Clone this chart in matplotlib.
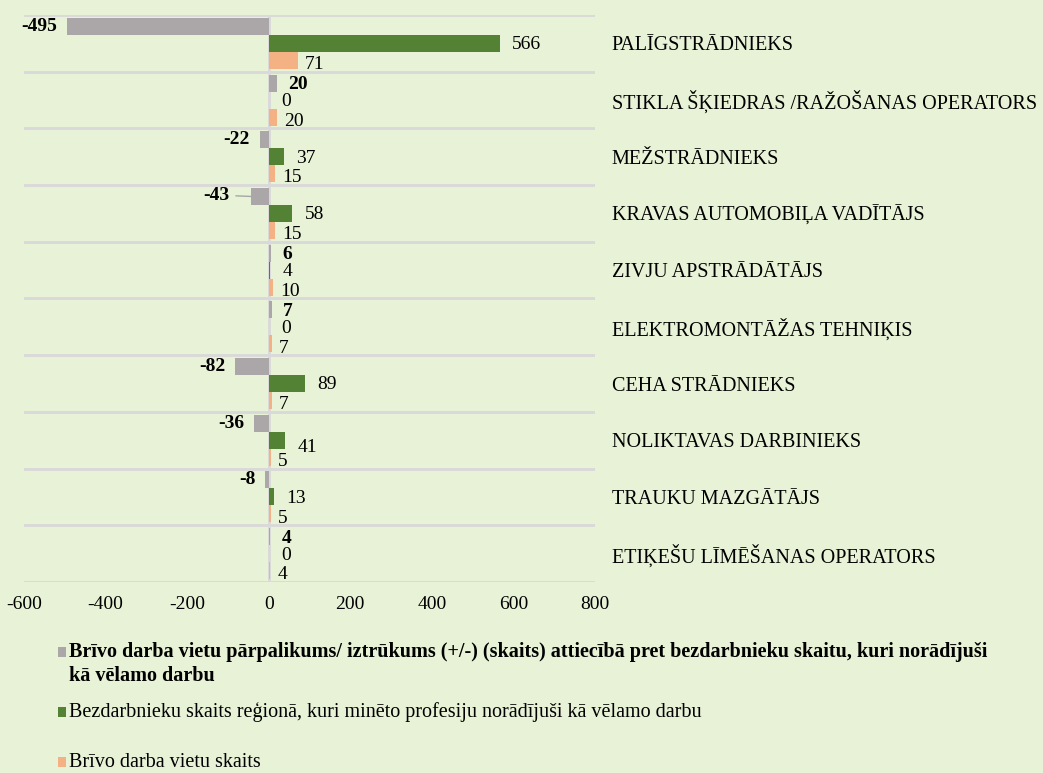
import matplotlib
matplotlib.use("Agg")
import matplotlib.pyplot as plt
from matplotlib.patches import Rectangle
import numpy as np

categories = [
    "PALĪGSTRĀDNIEKS",
    "STIKLA ŠĶIEDRAS /RAŽOŠANAS OPERATORS",
    "MEŽSTRĀDNIEKS",
    "KRAVAS AUTOMOBIĻA VADĪTĀJS",
    "ZIVJU APSTRĀDĀTĀJS",
    "ELEKTROMONTĀŽAS TEHNIĶIS",
    "CEHA STRĀDNIEKS",
    "NOLIKTAVAS DARBINIEKS",
    "TRAUKU MAZGĀTĀJS",
    "ETIĶEŠU LĪMĒŠANAS OPERATORS",
]
surplus = [-495, 20, -22, -43, 6, 7, -82, -36, -8, 4]
unemployed = [566, 0, 37, 58, 4, 0, 89, 41, 13, 0]
vacancies = [71, 20, 15, 15, 10, 7, 7, 5, 5, 4]
xticks = [-600, -400, -200, 0, 200, 400, 600, 800]

series_names = [
    "Brīvo darba vietu pārpalikums/ iztrūkums (+/-) (skaits) attiecībā pret bezdarbnieku skaitu, kuri norādījuši",
    "Bezdarbnieku skaits reģionā, kuri minēto profesiju norādījuši kā vēlamo darbu",
    "Brīvo darba vietu skaits",
]
series_name_line2 = "kā vēlamo darbu"

BG = "#E8F2D6"
GREY = "#ABA7A8"
GREEN = "#548235"
ORANGE = "#F4B183"
GRID = "#D9D9D9"
FONT = "Liberation Serif"
FS = 14.5
FS_NUM = 14

W, H = 1043, 773
fig = plt.figure(figsize=(W / 100, H / 100), dpi=100, facecolor=BG)
ax = fig.add_axes([24 / W, 1 - 582 / H, (595 - 24) / W, (582 - 15) / H])
ax.set_facecolor(BG)

y = np.arange(len(categories))
bh = 0.3
ax.barh(y - bh, surplus, height=bh, color=GREY, zorder=3)
ax.barh(y, unemployed, height=bh, color=GREEN, zorder=3)
ax.barh(y + bh, vacancies, height=bh, color=ORANGE, zorder=3)

ax.set_xlim(-600, 800)
ax.set_ylim(len(categories) - 0.5, -0.5)

# gridlines at category boundaries
ax.set_yticks(np.arange(len(categories) + 1) - 0.5, minor=True)
ax.grid(which="minor", axis="y", color=GRID, linewidth=2, zorder=1)
ax.axvline(0, color=GRID, linewidth=2, zorder=2)
for s in ax.spines.values():
    s.set_visible(False)

ax.set_xticks(xticks)
ax.set_xticklabels([str(v) for v in xticks], fontfamily=FONT, fontsize=FS_NUM)
ax.tick_params(axis="x", length=0, pad=10)
ax.yaxis.tick_right()
ax.set_yticks(y)
ax.set_yticklabels(categories, fontfamily=FONT, fontsize=FS)
ax.tick_params(axis="y", which="both", length=0, pad=12)

# data labels
for i, v in enumerate(surplus):
    if v < 0:
        if v == -43:
            ax.annotate(str(v), xy=(v, i - bh), xytext=(-16, 1), textcoords="offset points",
                        ha="right", va="center", fontfamily=FONT, fontsize=FS_NUM, fontweight="bold",
                        arrowprops=dict(arrowstyle="-", color="#A6A6A6", lw=1,
                                        shrinkA=3, shrinkB=0))
        else:
            ax.annotate(str(v), xy=(v, i - bh), xytext=(-7, 0), textcoords="offset points",
                        ha="right", va="center", fontfamily=FONT, fontsize=FS_NUM, fontweight="bold")
    else:
        ax.annotate(str(v), xy=(v, i - bh), xytext=(8, -1), textcoords="offset points",
                    ha="left", va="center", fontfamily=FONT, fontsize=FS_NUM, fontweight="bold")
for i, v in enumerate(unemployed):
    dy = -5 if v == 41 else -1
    ax.annotate(str(v), xy=(v, i), xytext=(9, dy), textcoords="offset points",
                ha="left", va="center", fontfamily=FONT, fontsize=FS_NUM)
for i, v in enumerate(vacancies):
    ax.annotate(str(v), xy=(v, i + bh), xytext=(5, -3), textcoords="offset points",
                ha="left", va="center", fontfamily=FONT, fontsize=FS_NUM)

# legend drawn manually
def fx(px):
    return px / W

def fy(py):
    return 1 - py / H

legend_rows = [
    (GREY, [series_names[0], series_name_line2], [657, 681], "bold"),
    (GREEN, [series_names[1]], [717], "normal"),
    (ORANGE, [series_names[2]], [767], "normal"),
]
for color, lines, baselines, weight in legend_rows:
    b = baselines[0]
    fig.add_artist(Rectangle((fx(58), fy(b)), 8 / W, 10 / H, transform=fig.transFigure,
                             facecolor=color, edgecolor="none"))
    for line, bl in zip(lines, baselines):
        fig.text(fx(69), fy(bl), line, ha="left", va="baseline", fontfamily=FONT,
                 fontsize=FS, fontweight=weight)

fig.savefig("out.png", dpi=100, facecolor=BG)
